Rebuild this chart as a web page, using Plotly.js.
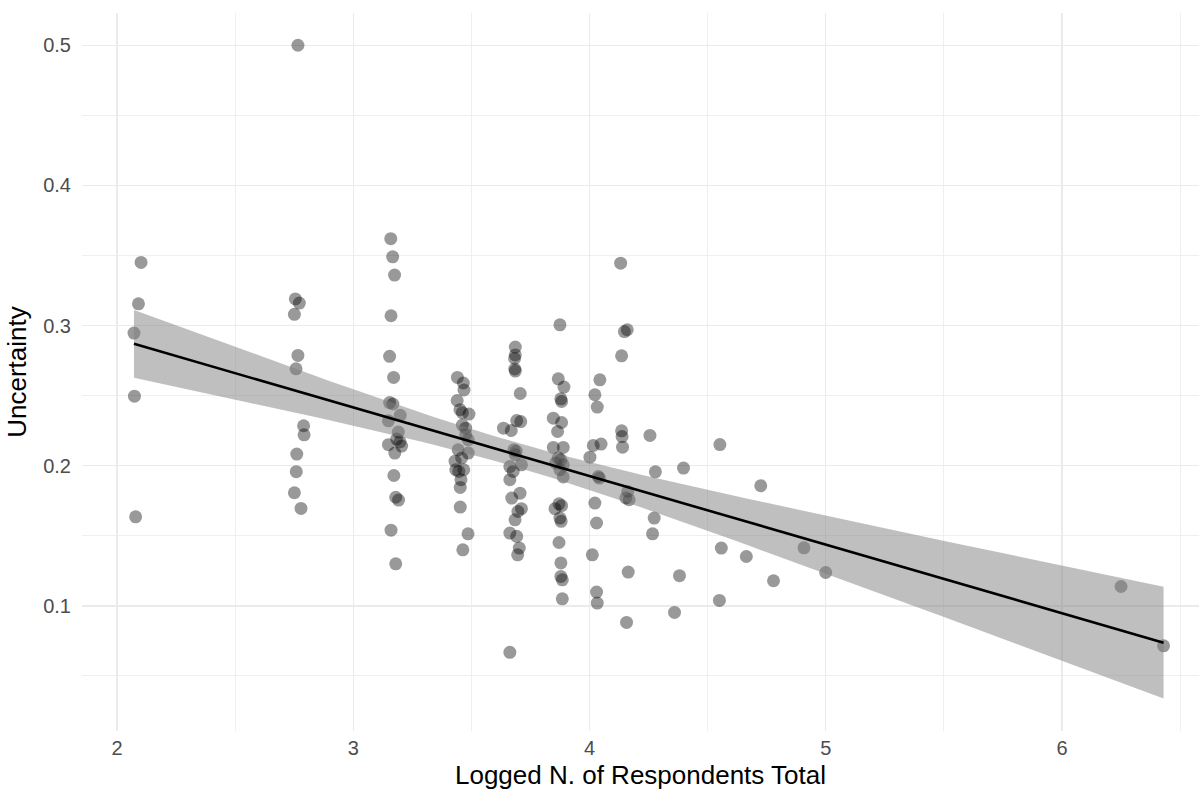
<!DOCTYPE html>
<html>
<head>
<meta charset="utf-8">
<script src="https://cdn.plot.ly/plotly-3.0.1.min.js"></script>
<style>html,body{margin:0;padding:0;background:#fff;}#chart{width:1202px;height:796px;}</style>
</head>
<body>
<div id="chart"></div>
<script>
// Logged N. of respondents (x) and uncertainty (y)
const logN = [
  2.102, 2.091, 2.072, 2.074, 2.079,
  2.766, 2.755, 2.772, 2.751, 2.766, 2.758, 2.790, 2.792, 2.761, 2.759, 2.751, 2.779,
  3.159, 3.167, 3.175, 3.160, 3.154, 3.171, 3.154, 3.168, 3.199, 3.149, 3.191, 3.184, 3.198, 3.149, 3.205, 3.176, 3.172, 3.180, 3.192, 3.160, 3.180,
  3.441, 3.466, 3.469, 3.440, 3.452, 3.462, 3.490, 3.462, 3.476, 3.476, 3.487, 3.444, 3.487, 3.459, 3.431, 3.434, 3.447, 3.468, 3.456, 3.453, 3.453, 3.486, 3.464,
  3.686, 3.686, 3.683, 3.684, 3.686, 3.707, 3.636, 3.669, 3.692, 3.709, 3.680, 3.690, 3.686, 3.712, 3.663, 3.677, 3.663, 3.706, 3.671, 3.712, 3.697, 3.685, 3.663, 3.692, 3.703, 3.696, 3.663,
  3.875, 3.868, 3.892, 3.879, 3.882, 3.847, 3.882, 3.865, 3.847, 3.889, 3.868, 3.879, 3.857, 3.889, 3.875, 3.889, 3.871, 3.882, 3.854, 3.875, 3.880, 3.871, 3.879, 3.879, 3.885, 3.885,
  4.044, 4.023, 4.033, 4.016, 4.049, 4.002, 4.037, 4.042, 4.023, 4.030, 4.012, 4.030, 4.033,
  4.132, 4.148, 4.160, 4.136, 4.136, 4.138, 4.140, 4.162, 4.154, 4.168, 4.164, 4.157,
  4.256, 4.552, 4.279, 4.398, 4.725, 4.274, 4.267, 4.558, 4.664, 4.908, 4.381, 4.779, 5.000, 4.550, 4.360, 6.250, 6.430
];
const uncertainty = [
  0.345, 0.3155, 0.2946, 0.2496, 0.1635,
  0.500, 0.319, 0.316, 0.308, 0.2787, 0.2691, 0.2285, 0.222, 0.2083, 0.1957, 0.1807, 0.1695,
  0.362, 0.349, 0.336, 0.307, 0.278, 0.263, 0.245, 0.244, 0.236, 0.232, 0.224, 0.219, 0.217, 0.215, 0.214, 0.209, 0.193, 0.1775, 0.1755, 0.154, 0.130,
  0.263, 0.259, 0.254, 0.2465, 0.240, 0.2378, 0.2368, 0.229, 0.2268, 0.222, 0.2185, 0.2113, 0.209, 0.2055, 0.2032, 0.1971, 0.1959, 0.1971, 0.190, 0.1845, 0.1705, 0.1514, 0.140,
  0.2846, 0.279, 0.2765, 0.269, 0.2675, 0.2515, 0.2268, 0.2251, 0.2322, 0.2315, 0.2113, 0.2105, 0.2078, 0.2006, 0.1994, 0.1959, 0.190, 0.1804, 0.1769, 0.1693, 0.1673, 0.1614, 0.1519, 0.1496, 0.1412, 0.1364, 0.0668,
  0.3005, 0.262, 0.2561, 0.2477, 0.2458, 0.2339, 0.2308, 0.2244, 0.213, 0.213, 0.2054, 0.2042, 0.202, 0.2006, 0.1971, 0.192, 0.1728, 0.1715, 0.1693, 0.1626, 0.1603, 0.1452, 0.1306, 0.121, 0.1186, 0.105,
  0.2613, 0.2506, 0.2418, 0.2144, 0.2154, 0.2061, 0.1923, 0.1912, 0.1733, 0.1591, 0.1364, 0.1098, 0.102,
  0.3445, 0.2957, 0.297, 0.2784, 0.2249, 0.2208, 0.2132, 0.1816, 0.177, 0.1757, 0.1241, 0.0882,
  0.2216, 0.2151, 0.1956, 0.1983, 0.1857, 0.1626, 0.1514, 0.1412, 0.1352, 0.1414, 0.1215, 0.1179, 0.1238, 0.1039, 0.0953, 0.1138, 0.0715
];
const xTicks = [2, 3, 4, 5, 6];
const yTicks = [0.1, 0.2, 0.3, 0.4, 0.5];
const xTitle = 'Logged N. of Respondents Total';
const yTitle = 'Uncertainty';

// Linear model fit with 95% confidence band (like geom_smooth(method = "lm"))
function lmBand(xs, ys, nGrid) {
  const n = xs.length;
  const xbar = xs.reduce((a, b) => a + b, 0) / n;
  const ybar = ys.reduce((a, b) => a + b, 0) / n;
  let sxx = 0, sxy = 0;
  for (let i = 0; i < n; i++) { sxx += (xs[i] - xbar) ** 2; sxy += (xs[i] - xbar) * (ys[i] - ybar); }
  const b1 = sxy / sxx, b0 = ybar - b1 * xbar;
  let sse = 0;
  for (let i = 0; i < n; i++) sse += (ys[i] - b0 - b1 * xs[i]) ** 2;
  const df = n - 2, s = Math.sqrt(sse / df);
  const z = 1.959964;
  const t = z + (z ** 3 + z) / (4 * df) + (5 * z ** 5 + 16 * z ** 3 + 3 * z) / (96 * df * df);
  const lo = Math.min(...xs), hi = Math.max(...xs);
  const gx = [], fit = [], up = [], dn = [];
  for (let k = 0; k < nGrid; k++) {
    const x = lo + (hi - lo) * k / (nGrid - 1);
    const f = b0 + b1 * x;
    const se = s * Math.sqrt(1 / n + (x - xbar) ** 2 / sxx);
    gx.push(x); fit.push(f); up.push(f + t * se); dn.push(f - t * se);
  }
  return { gx, fit, up, dn };
}
const band = lmBand(logN, uncertainty, 80);

const traces = [
  { x: logN, y: uncertainty, type: 'scatter', mode: 'markers',
    marker: { color: 'rgba(0,0,0,0.4)', size: 13, line: { width: 0 } }, hoverinfo: 'x+y' },
  { x: band.gx, y: band.up, type: 'scatter', mode: 'lines', line: { width: 0, color: 'rgba(0,0,0,0)' }, hoverinfo: 'skip' },
  { x: band.gx, y: band.dn, type: 'scatter', mode: 'lines', line: { width: 0, color: 'rgba(0,0,0,0)' },
    fill: 'tonexty', fillcolor: 'rgba(128,128,128,0.5)', hoverinfo: 'skip' },
  { x: band.gx, y: band.fit, type: 'scatter', mode: 'lines', line: { color: '#000000', width: 2.6 }, hoverinfo: 'skip' }
];

const gridCol = '#EBEBEB';
const layout = {
  width: 1202, height: 796,
  paper_bgcolor: '#ffffff', plot_bgcolor: '#ffffff',
  showlegend: false,
  margin: { l: 82, r: 3, t: 13, b: 65, pad: 0 },
  font: { family: '"Liberation Sans", Arial, sans-serif', color: '#4D4D4D' },
  xaxis: {
    range: [1.852, 6.58],
    tickvals: xTicks, ticktext: xTicks.map(String),
    showgrid: true, gridcolor: gridCol, gridwidth: 1.4,
    minor: { dtick: 0.5, tick0: 0, showgrid: true, gridcolor: gridCol, gridwidth: 0.8 },
    zeroline: false, showline: false, ticks: '', automargin: false,
    tickfont: { size: 20, color: '#4D4D4D' },
    ticklabelstandoff: 3,
    title: { text: xTitle, font: { size: 26, color: '#000000' }, standoff: 7 }
  },
  yaxis: {
    range: [0.0107, 0.523],
    tickvals: yTicks, ticktext: yTicks.map(v => v.toFixed(1)),
    showgrid: true, gridcolor: gridCol, gridwidth: 1.4,
    minor: { dtick: 0.05, tick0: 0, showgrid: true, gridcolor: gridCol, gridwidth: 0.8 },
    zeroline: false, showline: false, ticks: '', automargin: false,
    tickfont: { size: 20, color: '#4D4D4D' },
    ticklabelstandoff: 10,
    title: { text: yTitle, font: { size: 26, color: '#000000' }, standoff: 9 }
  }
};

Plotly.newPlot('chart', traces, layout, { displayModeBar: false, staticPlot: true });
</script>
</body>
</html>
